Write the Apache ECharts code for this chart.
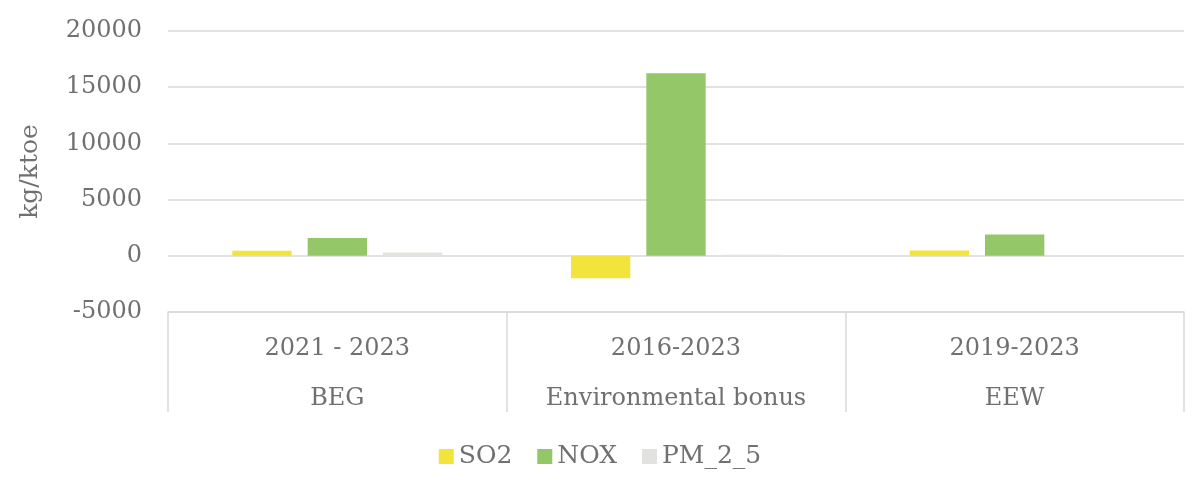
<!DOCTYPE html>
<html>
<head>
<meta charset="utf-8">
<script src="https://cdn.jsdelivr.net/npm/echarts@6/dist/echarts.min.js"></script>
<style>html,body{margin:0;padding:0;background:#fff;}#c{width:1200px;height:489px;}</style>
</head>
<body>
<div id="c"></div>
<script>
const programs = ['BEG', 'Environmental bonus', 'EEW'];
const periods = ['2021 - 2023', '2016-2023', '2019-2023'];
const so2 = [450, -2000, 480];
const nox = [1590, 16250, 1900];
const pm25 = [300, 100, 20];
const yTicks = { min: -5000, max: 20000, interval: 5000 };

const FONT = 'DejaVu Serif';
const TXT = '#707070';
const chart = echarts.init(document.getElementById('c'));
chart.setOption({
  animation: false,
  textStyle: { fontFamily: FONT },
  grid: { left: 168, right: 16, top: 31, bottom: 177 },
  legend: {
    bottom: 15,
    left: 'center',
    itemWidth: 15,
    itemHeight: 15,
    itemGap: 25,
    icon: 'rect',
    textStyle: { fontFamily: FONT, fontSize: 25, color: TXT },
    data: ['SO2', 'NOX', 'PM_2_5']
  },
  xAxis: {
    type: 'category',
    data: programs,
    axisLine: { show: true, onZero: false, lineStyle: { color: '#d9d9d9', width: 1.5 } },
    axisTick: { show: true, length: 100, interval: 0, lineStyle: { color: '#d9d9d9', width: 1.5 } },
    axisLabel: {
      interval: 0,
      margin: 12,
      fontFamily: FONT,
      fontSize: 24,
      color: TXT,
      lineHeight: 50,
      formatter: (v, i) => periods[i] + '\n' + v
    }
  },
  yAxis: {
    type: 'value',
    min: yTicks.min,
    max: yTicks.max,
    interval: yTicks.interval,
    name: 'kg/ktoe',
    nameLocation: 'middle',
    nameRotate: 90,
    nameGap: 125,
    nameTextStyle: { fontFamily: FONT, fontSize: 25, color: TXT },
    axisLine: { show: false },
    axisTick: { show: false },
    axisLabel: { margin: 26, fontFamily: FONT, fontSize: 24, color: TXT, formatter: v => String(v) },
    splitLine: { lineStyle: { color: '#d9d9d9', width: 1.5 } }
  },
  series: [
    { name: 'SO2', type: 'bar', data: so2, barGap: '27%', barCategoryGap: '38%', itemStyle: { color: '#F3E43C' } },
    { name: 'NOX', type: 'bar', data: nox, itemStyle: { color: '#94C767' } },
    { name: 'PM_2_5', type: 'bar', data: pm25, itemStyle: { color: '#E2E2DF' } }
  ]
});
</script>
</body>
</html>
